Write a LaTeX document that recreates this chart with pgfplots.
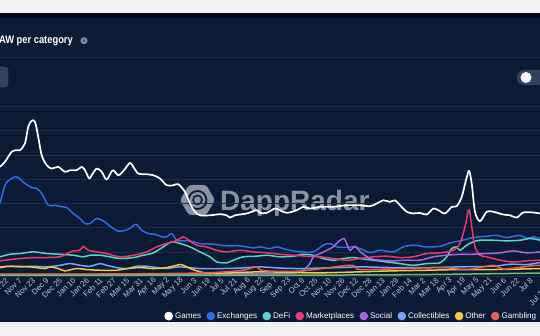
\documentclass[border=0pt]{standalone}
\usepackage{pgfplots}
\pgfplotsset{compat=1.18}
\usepackage{fontspec}
\setmainfont{Liberation Sans}
\definecolor{bgc}{RGB}{11,26,53}
\definecolor{topc}{RGB}{244,244,246}
\definecolor{stripc}{RGB}{3,10,28}
\definecolor{botc}{RGB}{240,240,242}
\definecolor{sepc}{RGB}{28,43,70}
\definecolor{gridc}{RGB}{30,46,74}
\definecolor{infoc}{RGB}{125,138,163}
\definecolor{btnc}{RGB}{52,66,94}
\definecolor{togc}{RGB}{47,66,100}
\definecolor{wmc}{RGB}{138,146,158}
\definecolor{labc}{RGB}{196,201,212}
\definecolor{gamesc}{RGB}{255,255,255}
\definecolor{exchc}{RGB}{45,110,230}
\definecolor{defic}{RGB}{90,212,196}
\definecolor{marketc}{RGB}{232,58,110}
\definecolor{socialc}{RGB}{170,100,230}
\definecolor{collc}{RGB}{120,165,245}
\definecolor{otherc}{RGB}{245,200,70}
\definecolor{gamblc}{RGB}{232,96,76}
\definecolor{greenc}{RGB}{110,190,110}
\begin{document}
\begin{tikzpicture}[x=1pt,y=1pt]
\useasboundingbox (0,0) rectangle (540,336);
\clip (0,0) rectangle (540,336);
\fill[white] (0,0) rectangle (540,336);
\fill[topc] (0,323) rectangle (540,336);
\fill[stripc] (0,318) rectangle (540,323);
\fill[bgc] (0,14.3) rectangle (540,318);
\fill[botc] (0,0) rectangle (540,14.3);
\draw[sepc, line width=0.8pt] (0,279) -- (540,279);
\node[anchor=base east, text=white, font=\bfseries\fontsize{11}{12}\selectfont, inner sep=0pt, xscale=0.85] at (73,292) {UAW per category};
\fill[infoc] (84,295.3) circle (3.6);
\node[text=bgc, font=\bfseries\fontsize{5}{5}\selectfont, inner sep=0pt] at (84,295.3) {i};
\fill[btnc, rounded corners=3pt] (-10,248.7) rectangle (8.3,269.3);
\fill[togc, rounded corners=7pt] (517,251) rectangle (550,266);
\fill[white] (526,258.5) circle (5.5);
% watermark
\fill[wmc, rounded corners=3pt] (180,136) -- (188.75,151) -- (206.25,151) -- (215,136) -- (206.25,121) -- (188.75,121) -- cycle;
\draw[bgc, line width=1.8pt] (197.5,136) circle (9);
\draw[bgc, line width=1.6pt] (197.5,136) circle (4.5);
\node[anchor=base west, text=wmc, font=\bfseries\fontsize{28}{30}\selectfont, inner sep=0pt] at (220,125) {DappRadar};
\begin{axis}[
  at={(0,49.5)}, anchor=south west, scale only axis,
  width=540pt, height=169.5pt,
  xmin=-19.5, xmax=640, ymin=0, ymax=1400,
  axis line style={draw=none},
  ytick={0,200,...,1400}, yticklabel={}, ymajorgrids,
  grid style={gridc, line width=0.7pt},
  major tick length=0,
  xtick={-10.75,5.677,...,629.9},
  xticklabels={Oct 22,Nov 7,Nov 23,Dec 9,Dec 25,Jan 10,Jan 26,Feb 11,Feb 27,Mar 15,Mar 31,Apr 16,May 2,May 18,Jun 3,Jun 19,Jul 5,Jul 21,Aug 6,Aug 22,Sep 7,Sep 23,Oct 9,Oct 25,Nov 10,Nov 26,Dec 12,Dec 28,Jan 13,Jan 29,Feb 14,Mar 2,Mar 18,Apr 3,Apr 19,May 5,May 21,Jun 6,Jun 22,Jul 8},
  xticklabel style={yshift=-3pt, rotate=45, anchor=east, inner sep=0pt, text=labc, font=\fontsize{7.8}{9}\selectfont},
  legend columns=-1,
  legend style={at={(axis description cs:0.997,-0.236)}, anchor=east, draw=none, fill=none, text=white, font=\fontsize{8.1}{9}\selectfont, inner sep=0pt, /tikz/every even column/.append style={column sep=3.4pt}},
  legend image code/.code={\fill[#1] (0pt,0pt) circle (3.5pt);},
  every axis plot/.append style={line width=1.5pt, smooth, line join=round},
]
\addplot[color=gamesc, line width=1.7pt] coordinates {(-19.5,902) (-13.4,944) (-5.3,1026) (0.9,1040) (4.9,1040) (11,1095) (15,1233) (19.2,1283) (23.2,1274) (27.2,1150) (31.4,998) (37.5,916) (43.6,888) (51.7,902) (59.8,861) (66,874) (74.1,874) (80.2,902) (84.3,874) (89.5,806) (92.5,833) (98.6,888) (104.7,861) (110.8,797) (118.1,874) (125,833) (131.9,874) (139.2,935) (143.3,902) (149.4,847) (159.6,841) (167.7,833) (175.9,806) (184.1,750) (192.1,750) (198.2,759) (206.4,696) (212.5,599) (218.6,531) (224.7,502) (237,502) (249.2,511) (257.3,502) (261.4,483) (267.5,502) (281.8,517) (294,544) (298,522) (306.2,522) (316.3,558) (322.5,544) (330.6,522) (342.9,544) (350.9,572) (359.1,558) (371.3,572) (387.5,572) (403.9,585) (420.2,585) (432.4,577) (440.6,599) (448.6,626) (456.8,613) (462.9,626) (469,585) (477.2,531) (485.3,517) (493.4,522) (501.6,508) (509.7,558) (515.8,544) (524,517) (532.2,572) (538.3,577) (544.4,654) (549.6,792) (553.3,869) (556.6,764) (560.6,531) (566.7,453) (574.9,531) (583,531) (595.2,508) (603.4,502) (611.5,483) (619.6,525) (631.8,525) (640,517)};
\addlegendentry{Games}
\addplot[color=exchc] coordinates {(-19.5,599) (-13.4,750) (-7.3,797) (-1.2,820) (2.8,814) (11,764) (19.2,731) (25.3,723) (31.4,682) (39.5,585) (47.6,585) (55.8,572) (61.9,566) (70,517) (78.2,475) (84.3,434) (90.4,434) (98.6,475) (106.6,456) (114.8,412) (124.9,370) (133.1,378) (139.2,393) (146.6,428) (153.5,378) (161.6,351) (169.8,345) (178,324) (184.1,324) (190.2,351) (196.3,296) (202.4,291) (212.5,291) (224.7,269) (241,263) (257.3,250) (273.6,250) (289.8,233) (298,241) (310.2,227) (318.4,241) (330.6,219) (346.9,200) (363.1,200) (375.3,255) (383.5,269) (391.7,241) (399.8,236) (412,241) (420.2,227) (432.4,194) (444.6,213) (460.8,200) (473,241) (485.3,255) (501.6,241) (517.9,246) (530.1,274) (542.3,291) (558.5,318) (574.9,329) (587.1,337) (599.3,318) (615.6,337) (623.8,310) (631.8,324) (640,310)};
\addlegendentry{Exchanges}
\addplot[color=defic] coordinates {(-19.5,159) (-7.3,180) (4.9,186) (21.1,200) (37.5,186) (53.7,180) (70,172) (82.2,159) (90.4,172) (102.6,172) (114.8,159) (127,145) (143.3,153) (155.5,172) (167.7,192) (179.9,241) (190.2,283) (200.3,269) (212.5,241) (224.7,200) (237,159) (245.1,117) (257.3,109) (265.4,131) (277.6,159) (294,164) (306.2,172) (322.5,159) (338.7,164) (350.9,180) (363.1,172) (375.3,145) (387.5,131) (399.8,145) (412,153) (420.2,145) (436.4,131) (452.8,117) (469,103) (485.3,89) (501.6,103) (517.9,109) (526,159) (532.2,227) (538.3,241) (542.3,213) (550.5,255) (558.5,283) (566.7,296) (583,296) (599.3,291) (615.6,296) (627.8,310) (640,296)};
\addlegendentry{DeFi}
\addplot[color=marketc] coordinates {(-19.5,126) (-7.3,136) (4.9,145) (21.1,153) (37.5,153) (53.7,159) (61.9,186) (70,208) (78.2,213) (82.2,246) (88.3,213) (98.6,200) (110.8,186) (127,159) (143.3,172) (159.6,200) (171.9,241) (184.1,269) (192.1,283) (200.3,310) (204.4,324) (208.5,310) (220.7,255) (232.9,241) (245.1,213) (257.3,200) (273.6,213) (289.8,200) (306.2,192) (322.5,180) (338.7,172) (355.1,164) (371.3,159) (387.5,145) (403.9,131) (420.2,145) (436.4,159) (452.8,164) (469,153) (485.3,159) (501.6,186) (517.9,192) (534.2,213) (542.3,269) (548.4,407) (553.3,550) (556.6,407) (560.6,241) (566.7,172) (574.9,159) (591.2,131) (607.5,117) (623.8,126) (640,131)};
\addlegendentry{Marketplaces}
\addplot[color=socialc] coordinates {(-19.5,15) (102.6,15) (224.7,17) (322.5,21) (346.9,33) (350.9,48) (359.1,103) (363.1,159) (371.3,186) (379.5,213) (387.5,241) (393.6,283) (400.6,310) (403.9,269) (408,213) (414.1,246) (420.2,202) (432.4,145) (444.6,131) (460.8,126) (477.2,131) (493.4,131) (509.7,159) (526,172) (542.3,180) (558.5,180) (574.9,186) (591.2,192) (607.5,208) (623.8,192) (640,200)};
\addlegendentry{Social}
\addplot[color=collc] coordinates {(-19.5,76) (-7.3,81) (4.9,76) (21.1,81) (37.5,76) (53.7,89) (66,103) (78.2,89) (90.4,81) (102.6,103) (110.8,89) (123,70) (135.2,62) (147.4,81) (159.6,81) (171.9,70) (184.1,62) (200.3,76) (224.7,62) (249.2,62) (273.6,66) (298,76) (322.5,66) (346.9,62) (371.3,66) (395.7,70) (420.2,76) (460.8,70) (501.6,70) (542.3,76) (583,81) (603.7,98) (623.8,95) (640,112)};
\addlegendentry{Collectibles}
\addplot[color=otherc] coordinates {(-19.5,70) (-7.3,81) (17.1,76) (35.4,62) (41.5,76) (51.7,62) (59.8,43) (74.1,62) (86.4,54) (102.6,48) (123,48) (135.2,62) (151.5,70) (167.7,62) (184.1,70) (196.3,89) (202.4,95) (210.4,70) (220.7,43) (232.9,26) (257.3,26) (302,35) (363.1,26) (420.2,35) (460.4,43) (501.6,48) (542.3,54) (583,54) (640,62)};
\addlegendentry{Other}
\addplot[color=gamblc] coordinates {(-19.5,17) (102.6,17) (224.7,25) (273.6,45) (294,76) (301.7,45) (346.9,41) (407.9,89) (420.2,54) (473,62) (521.9,70) (550.5,54) (583,89) (594.8,58) (619.6,76) (636,89) (640,85)};
\addlegendentry{Gambling}
\addplot[color=greenc, forget plot] coordinates {(-19.5,6) (346.9,8) (493.4,12) (640,25)};
\end{axis}
\node[yshift=-3pt, rotate=45, anchor=east, inner sep=0pt, text=labc, font=\fontsize{7.8}{9}\selectfont] at (545.2,49.5) {Jul 24};
\end{tikzpicture}
\end{document}
